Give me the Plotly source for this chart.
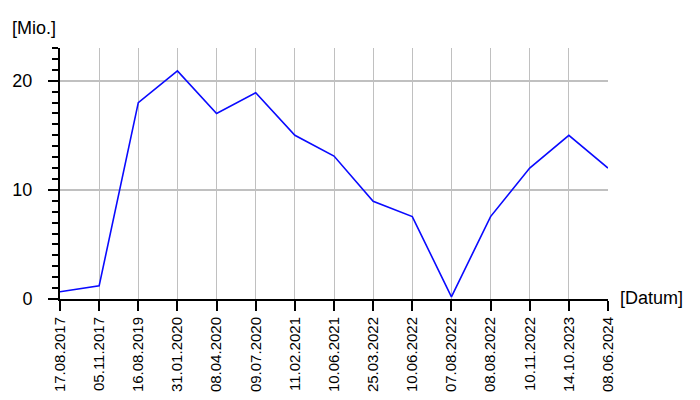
import plotly.graph_objects as go

dates = ["17.08.2017", "05.11.2017", "16.08.2019", "31.01.2020", "08.04.2020",
         "09.07.2020", "11.02.2021", "10.06.2021", "25.03.2022", "10.06.2022",
         "07.08.2022", "08.08.2022", "10.11.2022", "14.10.2023", "08.06.2024"]
values = [0.67, 1.2, 18.0, 20.9, 17.0, 18.9, 15.0, 13.1, 8.95, 7.55,
          0.2, 7.55, 12.0, 15.0, 12.0]
y_ticks = [0, 10, 20]

FONT = "Liberation Sans, Arial, sans-serif"

fig = go.Figure()
fig.add_trace(go.Scatter(x=dates, y=values, mode="lines",
                         line=dict(color="rgb(10,10,255)", width=1.6),
                         hoverinfo="x+y"))

fig.update_layout(
    width=700, height=400,
    margin=dict(l=60, r=92, t=48, b=101),
    paper_bgcolor="white", plot_bgcolor="white",
    showlegend=False,
    font=dict(family=FONT, color="black"),
    xaxis=dict(
        type="category", range=[0, len(dates) - 1], automargin=False,
        showline=True, linecolor="black", linewidth=2,
        showgrid=True, gridcolor="#c0c0c0", gridwidth=1,
        ticks="outside", ticklen=10, tickwidth=2, tickcolor="black",
        tickangle=-90, tickfont=dict(size=15, family=FONT, color="black"),
        zeroline=False,
    ),
    yaxis=dict(
        range=[0, 23], tickvals=y_ticks, automargin=False,
        showline=True, linecolor="black", linewidth=2,
        showgrid=True, gridcolor="#c0c0c0", gridwidth=2,
        ticks="outside", ticklen=10, tickwidth=2, tickcolor="black",
        tickfont=dict(size=18, family=FONT, color="black"),
        ticklabelstandoff=12,
        zeroline=False,
        minor=dict(ticks="outside", ticklen=6, tickwidth=1.5, tickcolor="black",
                   dtick=1, showgrid=False),
    ),
    annotations=[
        dict(text="[Mio.]", xref="paper", yref="paper", x=-0.0912, y=1.08,
             xanchor="left", yanchor="middle", showarrow=False,
             font=dict(size=18, family=FONT, color="black")),
        dict(text="[Datum]", xref="paper", yref="paper", x=1.018, y=0.004,
             xanchor="left", yanchor="middle", showarrow=False,
             font=dict(size=18, family=FONT, color="black")),
    ],
)

fig.write_html("out.html", config={"displayModeBar": False},
               post_script="document.body.style.margin='0';document.body.style.padding='0';")
